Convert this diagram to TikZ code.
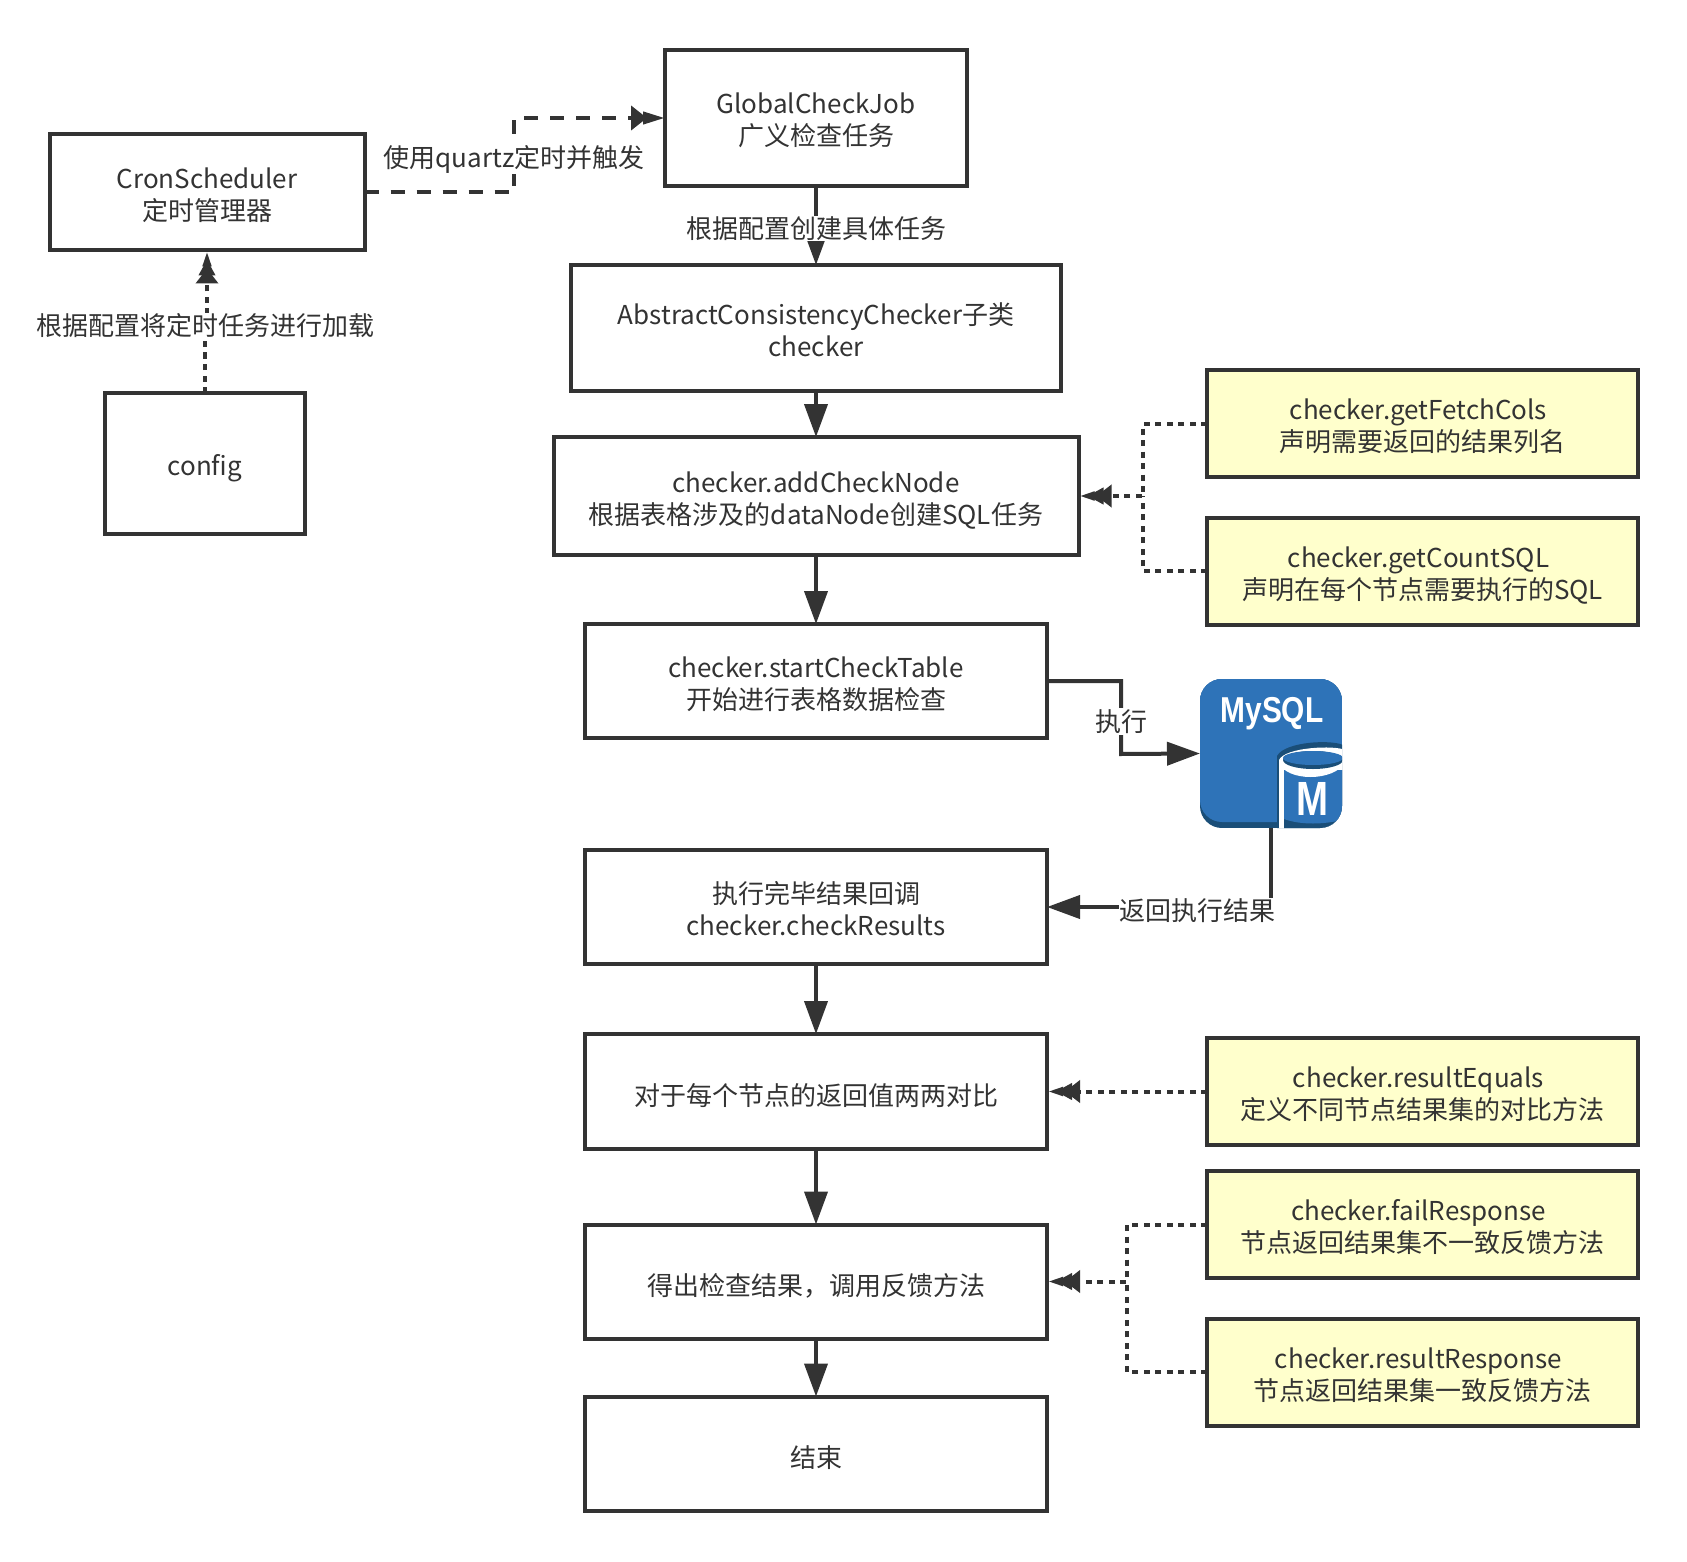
\documentclass[tikz,border=0pt]{standalone}
\usepackage{fontspec}
\usepackage{graphicx}
\setmainfont{Noto Sans CJK SC}
\newfontfamily\iconfont{Liberation Sans}
\usetikzlibrary{arrows.meta}
\definecolor{inkgrey}{HTML}{333333}
\definecolor{noteyellow}{HTML}{FFFFCC}
\definecolor{sqlblue}{HTML}{2E73B8}
\definecolor{sqldark}{HTML}{1A4E78}
\tikzset{
  box/.style 2 args={draw=inkgrey,line width=4pt,minimum width=#1pt,minimum height=#2pt,inner sep=0pt,outer sep=0pt,align=center,text=inkgrey,
    font=\fontsize{26}{32}\selectfont,text depth=0pt,text height=56pt},
  oneline/.style={text height=27pt},
  notebox/.style={box={431}{107},fill=noteyellow},
  flow/.style={draw=inkgrey,line width=4pt,-{Triangle[length=33pt,width=23pt]}},
  dashflow/.style={draw=inkgrey,line width=4pt,dash pattern=on 14pt off 12pt,-{Triangle[length=16pt,width=24pt,sep=-4pt]Triangle[length=22pt,width=12pt]}},
  dotline/.style={draw=inkgrey,line width=4pt,dash pattern=on 6pt off 5.5pt},
  dotflow/.style={dotline,-{Triangle[length=15pt,width=22pt,sep=-7pt]Triangle[length=16pt,width=16pt,sep=-7pt]Triangle[length=16pt,width=8pt]}},
  lbl/.style={fill=white,inner sep=1pt,text=inkgrey,font=\fontsize{26}{32}\selectfont}
}
\begin{document}
\begin{tikzpicture}[x=1pt,y=1pt,yscale=-1]
\useasboundingbox (0,0) rectangle (1687,1562);

%Left column
\node [box={315}{116}] (cron) at (207,192.5) {CronScheduler\\定时管理器};
\node [box={200}{141},oneline,text height=24pt] (config) at (205,463.5) {config};

%Main column
\node [box={302}{136}] (globaljob) at (816,118) {GlobalCheckJob\\广义检查任务};
\node [box={490}{126}] (abstract) at (816,328) {AbstractConsistencyChecker子类\\checker};
\node [box={525}{118}] (addnode) at (816,496) {checker.addCheckNode\\根据表格涉及的dataNode创建SQL任务};
\node [box={462}{114}] (starttable) at (816,681) {checker.startCheckTable\\开始进行表格数据检查};
\node [box={462}{114}] (results) at (816,907) {执行完毕结果回调\\checker.checkResults};
\node [box={462}{115},oneline] (compare) at (816,1091.5) {对于每个节点的返回值两两对比};
\node [box={462}{114},oneline] (feedback) at (816,1281.5) {得出检查结果，调用反馈方法};
\node [box={462}{114},oneline] (finish) at (816,1453.5) {结束};

%Yellow notes
\node [notebox] (fetchcols) at (1422.5,423.5) {checker.getFetchCols\kern8pt\\声明需要返回的结果列名};
\node [notebox] (countsql) at (1422.5,571) {checker.getCountSQL\kern8pt\\声明在每个节点需要执行的SQL};
\node [notebox] (equals) at (1422.5,1091.5) {checker.resultEquals\kern8pt\\定义不同节点结果集的对比方法};
\node [notebox] (failresp) at (1422.5,1224.5) {checker.failResponse\kern8pt\\节点返回结果集不一致反馈方法};
\node [notebox] (resultresp) at (1422.5,1372) {checker.resultResponse\kern8pt\\节点返回结果集一致反馈方法};

%MySQL icon
\node [minimum width=142pt,minimum height=149pt,inner sep=0pt,outer sep=0pt] (mysql) at (1271,753.5) {};
\begin{scope}
\clip [rounded corners=22pt] (1200,679) rectangle (1342,828);
\fill [sqldark] (1200,679) rectangle (1342,828);
\fill [sqlblue,rounded corners=22pt] (1200,679) rectangle (1342,822);
\fill [sqlblue] (1200,679) rectangle (1342,720);
\fill [sqldark] (1277,756) .. controls (1285,741) and (1335,739) .. (1345,746) -- (1345,830) -- (1277,830) -- cycle;
\fill [white] (1279,760) .. controls (1285,747) and (1335,745) .. (1345,750) -- (1345,830) -- (1279,830) -- cycle;
\fill [sqldark] (1284,770) rectangle (1345,830);
\fill [sqlblue] (1284,770) -- (1345,770) -- (1345,819) .. controls (1325,825) and (1300,825) .. (1284,819) -- cycle;
\fill [white] (1279,762) .. controls (1285,782) and (1335,782) .. (1345,762) -- cycle;
\fill [sqldark] (1313,760) ellipse (30 and 9);
\fill [sqlblue] (1313,758) ellipse (30 and 7);
\end{scope}
\node [text=white,inner sep=0pt,font=\iconfont\bfseries\fontsize{36}{36}\selectfont] (mysqlname) at (1272,714) {\scalebox{.83}[1]{MySQL}};
\node [text=white,inner sep=0pt,font=\iconfont\bfseries\fontsize{48}{48}\selectfont] (mysqlm) at (1312,799) {\scalebox{.8}[1]{M}};

%Connectors
\coordinate (bendquartz) at (514,118);
\coordinate (bendexec) at (1121,754);
\coordinate (jointadd) at (1143,496);
\coordinate (jointfeed) at (1127,1281.5);

\draw [dashflow] (cron.east) -| node [lbl,pos=0.75,yshift=-4pt] (quartzlabel) {使用quartz定时并触发} (bendquartz) -- (globaljob.west);
\draw [dotflow] (config.north) -- ++(0,-68) -- ++(2,0) node [lbl,xshift=-1.5pt,yshift=-1pt] (loadlabel) {根据配置将定时任务进行加载} -- (cron.south);
\draw [flow] (globaljob.south) -- node [lbl,yshift=-3pt] (createlabel) {根据配置创建具体任务} (abstract.north);
\draw [flow] (abstract.south) -- (addnode.north);
\draw [flow] (addnode.south) -- (starttable.north);
\draw [flow] (results.south) -- (compare.north);
\draw [flow] (compare.south) -- (feedback.north);
\draw [flow] (feedback.south) -- (finish.north);
\draw [flow] (starttable.east) -| node [lbl,pos=0.75,yshift=-4pt] (execlabel) {执行} (bendexec) -- (mysql.west);
\draw [flow] (mysql.south) |- node [lbl,pos=0.664,yshift=-4pt] (returnlabel) {返回执行结果} (results.east);

\draw [dotline] (countsql.west) -| (jointadd);
\draw [dotflow] (fetchcols.west) -| (jointadd) -- (addnode.east);
\draw [dotflow] (equals.west) -- (compare.east);
\draw [dotline] (resultresp.west) -| (jointfeed);
\draw [dotflow] (failresp.west) -| (jointfeed) -- (feedback.east);

\end{tikzpicture}
\end{document}
